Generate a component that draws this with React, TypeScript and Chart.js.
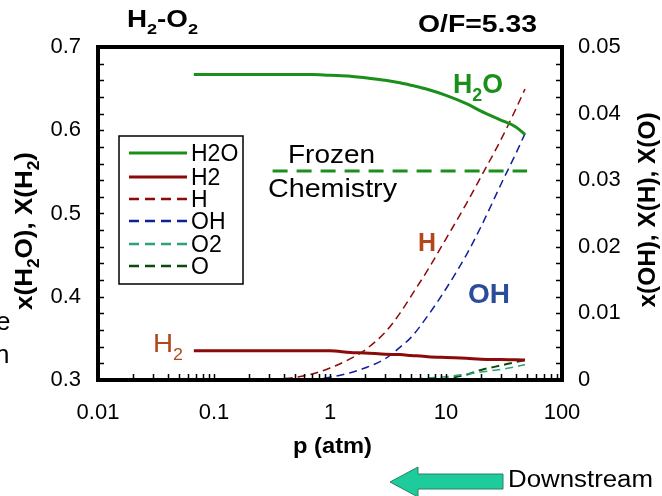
import React, { useEffect, useRef } from 'react';
import { Chart, registerables } from 'chart.js';
Chart.register(...registerables);

// ---------- data ----------
const pressure = [0.067, 0.1, 0.2, 0.3, 0.5, 0.7, 1, 1.5, 2, 3, 4, 5, 7, 10, 15, 20, 30, 40, 48];
const xH2O = [0.667, 0.667, 0.667, 0.667, 0.667, 0.667, 0.666, 0.665, 0.663, 0.66, 0.657, 0.654, 0.649, 0.642, 0.632, 0.623, 0.612, 0.604, 0.595];
const xH2 = [0.335, 0.335, 0.335, 0.335, 0.335, 0.335, 0.335, 0.333, 0.3325, 0.331, 0.3305, 0.3295, 0.328, 0.327, 0.326, 0.325, 0.3245, 0.3243, 0.324];
const xH = [0, 0, 0, 0.0001, 0.0004, 0.0009, 0.0018, 0.0032, 0.0045, 0.0072, 0.01, 0.0126, 0.0166, 0.0212, 0.0265, 0.0305, 0.0362, 0.0407, 0.0437];
const xOH = [0, 0, 0, 0, 0, 0.0001, 0.0004, 0.0011, 0.0018, 0.0032, 0.0049, 0.0064, 0.0097, 0.0137, 0.0188, 0.023, 0.0295, 0.034, 0.037];
const xO2 = [0, 0, 0, 0, 0, 0, 0, 0, 0, 0, 0.00005, 0.0001, 0.0003, 0.0005, 0.0009, 0.0012, 0.0016, 0.002, 0.0023];
const xO = [0, 0, 0, 0, 0, 0, 0, 0, 0, 0, 0, 0, 0, 0.0002, 0.0008, 0.0015, 0.0022, 0.0027, 0.003];
const frozenP = [0.32, 50];
const frozenX = [0.551, 0.551];

const xTicks = [0.01, 0.1, 1, 10, 100];
const xTickLabels = ['0.01', '0.1', '1', '10', '100'];
const yLeftTicks = [0.3, 0.4, 0.5, 0.6, 0.7];
const yLeftLabels = ['0.3', '0.4', '0.5', '0.6', '0.7'];
const yRightTicks = [0, 0.01, 0.02, 0.03, 0.04, 0.05];
const yRightLabels = ['0', '0.01', '0.02', '0.03', '0.04', '0.05'];
const legendLabels = ['H2O', 'H2', 'H', 'OH', 'O2', 'O'];

// ---------- styles ----------
const FONT = '"Liberation Sans", Arial, Helvetica, sans-serif';
const GREEN = '#1a8f1a';
const DARKRED = '#8b0a0a';
const BLUE = '#10209a';
const TEAL = '#2ea277';
const DKGREEN = '#0b4a0b';
const BROWN = '#b0481c';
const OHBLUE = '#2b4c9b';

type Part = { t: string; sub?: boolean };

function drawRich(
  ctx: CanvasRenderingContext2D,
  parts: Part[],
  x: number,
  y: number,
  size: number,
  bold: boolean,
  color: string,
  opts: { align?: 'left' | 'center'; rotate?: number; width?: number } = {}
) {
  ctx.save();
  ctx.translate(x, y);
  if (opts.rotate) ctx.rotate(opts.rotate);
  const main = `${bold ? 'bold ' : ''}${size}px ${FONT}`;
  const subSize = Math.round(size * 0.65);
  const subF = `${bold ? 'bold ' : ''}${subSize}px ${FONT}`;
  let w = 0;
  const ws = parts.map((p) => {
    ctx.font = p.sub ? subF : main;
    const m = ctx.measureText(p.t).width;
    w += m;
    return m;
  });
  const sx = opts.width ? opts.width / w : 1;
  ctx.scale(sx, 1);
  let cx = opts.align === 'center' ? -w / 2 : 0;
  ctx.fillStyle = color;
  ctx.textBaseline = 'alphabetic';
  ctx.textAlign = 'left';
  parts.forEach((p, i) => {
    ctx.font = p.sub ? subF : main;
    ctx.fillText(p.t, cx, p.sub ? size * 0.3 : 0);
    cx += ws[i];
  });
  ctx.restore();
}

const decorPlugin = {
  id: 'decor',
  afterDraw(chart: any) {
    const { ctx, chartArea: ca, scales } = chart;
    const sx = scales.x;
    const yL = scales.y;
    const yR = scales.y2;
    ctx.save();

    // inner tick marks
    ctx.strokeStyle = '#000';
    ctx.lineWidth = 1.5;
    ctx.beginPath();
    for (let i = 0; i <= 20; i++) {
      const v = 0.3 + i * 0.02;
      const py = Math.round(yL.getPixelForValue(v)) + 0.5;
      ctx.moveTo(ca.left, py);
      ctx.lineTo(ca.left + 6, py);
    }
    for (let i = 0; i <= 20; i++) {
      const v = i * 0.0025;
      const py = Math.round(yR.getPixelForValue(v)) + 0.5;
      ctx.moveTo(ca.right - 6, py);
      ctx.lineTo(ca.right, py);
    }
    for (let e = -2; e <= 1; e++) {
      for (let k = 1; k <= 9; k++) {
        const v = k * Math.pow(10, e);
        const px = Math.round(sx.getPixelForValue(v)) + 0.5;
        ctx.moveTo(px, ca.bottom);
        ctx.lineTo(px, ca.bottom - 6);
      }
    }
    ctx.stroke();

    // frame
    ctx.lineWidth = 4;
    ctx.strokeStyle = '#000';
    ctx.strokeRect(ca.left, ca.top, ca.right - ca.left, ca.bottom - ca.top);

    // legend
    const lx = 119, ly = 136, lw = 124, lh = 148;
    ctx.fillStyle = '#fff';
    ctx.fillRect(lx, ly, lw, lh);
    ctx.lineWidth = 1.5;
    ctx.strokeStyle = '#000';
    ctx.strokeRect(lx, ly, lw, lh);
    const rows = [153, 177, 199, 221, 244, 266];
    legendLabels.forEach((lab, i) => {
      const ds = chart.data.datasets.find((d: any) => d.label === lab);
      if (!ds) return;
      ctx.beginPath();
      ctx.strokeStyle = ds.borderColor;
      ctx.lineWidth = ds.borderDash && ds.borderDash.length ? 2.5 : 3;
      ctx.setLineDash(ds.borderDash && ds.borderDash.length ? [10, 6] : []);
      ctx.moveTo(129, rows[i]);
      ctx.lineTo(187, rows[i]);
      ctx.stroke();
      ctx.setLineDash([]);
      ctx.fillStyle = '#000';
      ctx.font = `23px ${FONT}`;
      ctx.textBaseline = 'alphabetic';
      ctx.textAlign = 'left';
      ctx.fillText(lab, 191, rows[i] + 8);
    });

    // titles
    drawRich(ctx, [{ t: 'H' }, { t: '2', sub: true }, { t: '-O' }, { t: '2', sub: true }], 127, 27, 23, true, '#000', { width: 71 });
    drawRich(ctx, [{ t: 'O/F=5.33' }], 418, 32, 24, true, '#000', { width: 119 });

    // annotations
    drawRich(ctx, [{ t: 'H' }, { t: '2', sub: true }, { t: 'O' }], 453, 93, 27, true, GREEN, { width: 50 });
    drawRich(ctx, [{ t: 'H' }], 418, 251, 26, true, BROWN, { width: 18 });
    drawRich(ctx, [{ t: 'OH' }], 468, 303, 27, true, OHBLUE, { width: 42 });
    drawRich(ctx, [{ t: 'H' }, { t: '2', sub: true }], 153, 352, 25, false, BROWN, { width: 30 });
    drawRich(ctx, [{ t: 'Frozen' }], 288, 163, 25, false, '#000', { width: 87 });
    drawRich(ctx, [{ t: 'Chemistry' }], 268, 197, 26, false, '#000', { width: 129 });

    // axis titles
    drawRich(ctx, [{ t: 'p (atm)' }], 293, 453, 22, true, '#000', { width: 79 });
    drawRich(
      ctx,
      [{ t: 'x(H' }, { t: '2', sub: true }, { t: 'O), X(H' }, { t: '2', sub: true }, { t: ')' }],
      32, 231, 24, true, '#000', { align: 'center', rotate: -Math.PI / 2, width: 158 }
    );
    drawRich(ctx, [{ t: 'x(OH), X(H), X(O)' }], 655, 210, 24, true, '#000', { align: 'center', rotate: -Math.PI / 2, width: 195 });

    // cut-off fragments at the left edge
    ctx.fillStyle = '#000';
    ctx.font = `26px ${FONT}`;
    ctx.textAlign = 'left';
    ctx.fillText('e', -4, 330);
    ctx.fillText('n', -5, 363);

    // downstream arrow
    ctx.beginPath();
    ctx.moveTo(390, 482);
    ctx.lineTo(418, 467);
    ctx.lineTo(418, 474);
    ctx.lineTo(503, 474);
    ctx.lineTo(503, 489);
    ctx.lineTo(418, 489);
    ctx.lineTo(418, 497);
    ctx.closePath();
    ctx.fillStyle = '#1ecb9a';
    ctx.fill();
    ctx.lineWidth = 1;
    ctx.strokeStyle = '#2f7f68';
    ctx.stroke();
    drawRich(ctx, [{ t: 'Downstream' }], 508, 487, 23, false, '#000', { width: 145 });

    ctx.restore();
  },
};

function series(xs: number[], ys: number[]) {
  return xs.map((p, i) => ({ x: p, y: ys[i] }));
}

export default function App() {
  const ref = useRef<HTMLCanvasElement>(null);
  useEffect(() => {
    const tickFont = { family: FONT, size: 22 };
    const chart = new Chart(ref.current as HTMLCanvasElement, {
      type: 'line',
      data: {
        datasets: [
          { label: 'H2O', data: series(pressure, xH2O), yAxisID: 'y', borderColor: GREEN, borderWidth: 3, pointRadius: 0, fill: false, cubicInterpolationMode: 'monotone' },
          { label: 'H2', data: series(pressure, xH2), yAxisID: 'y', borderColor: DARKRED, borderWidth: 3, pointRadius: 0, fill: false, cubicInterpolationMode: 'monotone' },
          { label: 'H', data: series(pressure, xH), yAxisID: 'y2', borderColor: DARKRED, borderWidth: 1.5, borderDash: [8, 5], pointRadius: 0, fill: false, cubicInterpolationMode: 'monotone' },
          { label: 'OH', data: series(pressure, xOH), yAxisID: 'y2', borderColor: BLUE, borderWidth: 1.5, borderDash: [8, 5], pointRadius: 0, fill: false, cubicInterpolationMode: 'monotone' },
          { label: 'O2', data: series(pressure, xO2), yAxisID: 'y2', borderColor: TEAL, borderWidth: 1.5, borderDash: [8, 5], pointRadius: 0, fill: false, cubicInterpolationMode: 'monotone' },
          { label: 'O', data: series(pressure, xO), yAxisID: 'y2', borderColor: DKGREEN, borderWidth: 2, borderDash: [8, 5], pointRadius: 0, fill: false, cubicInterpolationMode: 'monotone' },
          { label: 'Frozen', data: series(frozenP, frozenX), yAxisID: 'y', borderColor: GREEN, borderWidth: 3, borderDash: [15, 9], pointRadius: 0, fill: false },
        ],
      } as any,
      options: {
        responsive: false,
        animation: false,
        devicePixelRatio: 1,
        layout: { padding: { top: 47, left: 0, right: 0, bottom: 0 } },
        plugins: { legend: { display: false }, tooltip: { enabled: false }, title: { display: false } },
        scales: {
          x: {
            type: 'logarithmic',
            position: 'bottom',
            min: 0.01,
            max: 100,
            grid: { display: false, drawTicks: false },
            border: { display: false },
            afterBuildTicks: (s: any) => { s.ticks = xTicks.map((v) => ({ value: v })); },
            afterFit: (s: any) => { s.height = 116; },
            ticks: { autoSkip: false, maxRotation: 0, minRotation: 0, padding: 20, font: tickFont, color: '#000', callback: (_v: any, i: number) => xTickLabels[i] },
          },
          y: {
            type: 'linear',
            position: 'left',
            min: 0.3,
            max: 0.7,
            grid: { display: false, drawTicks: false },
            border: { display: false },
            afterBuildTicks: (s: any) => { s.ticks = yLeftTicks.map((v) => ({ value: v })); },
            afterFit: (s: any) => { s.width = 98; },
            ticks: { autoSkip: false, padding: 17, font: tickFont, color: '#000', callback: (_v: any, i: number) => yLeftLabels[i] },
          },
          y2: {
            type: 'linear',
            position: 'right',
            min: 0,
            max: 0.05,
            grid: { display: false, drawTicks: false },
            border: { display: false },
            afterBuildTicks: (s: any) => { s.ticks = yRightTicks.map((v) => ({ value: v })); },
            afterFit: (s: any) => { s.width = 100; },
            ticks: { autoSkip: false, padding: 16, font: tickFont, color: '#000', callback: (_v: any, i: number) => yRightLabels[i] },
          },
        },
      } as any,
      plugins: [decorPlugin],
    });
    return () => chart.destroy();
  }, []);
  return (
    <div style={{ position: 'absolute', left: 0, top: 0, width: 662, height: 496, background: '#fff' }}>
      <canvas ref={ref} width={662} height={496} style={{ display: 'block' }} />
    </div>
  );
}
